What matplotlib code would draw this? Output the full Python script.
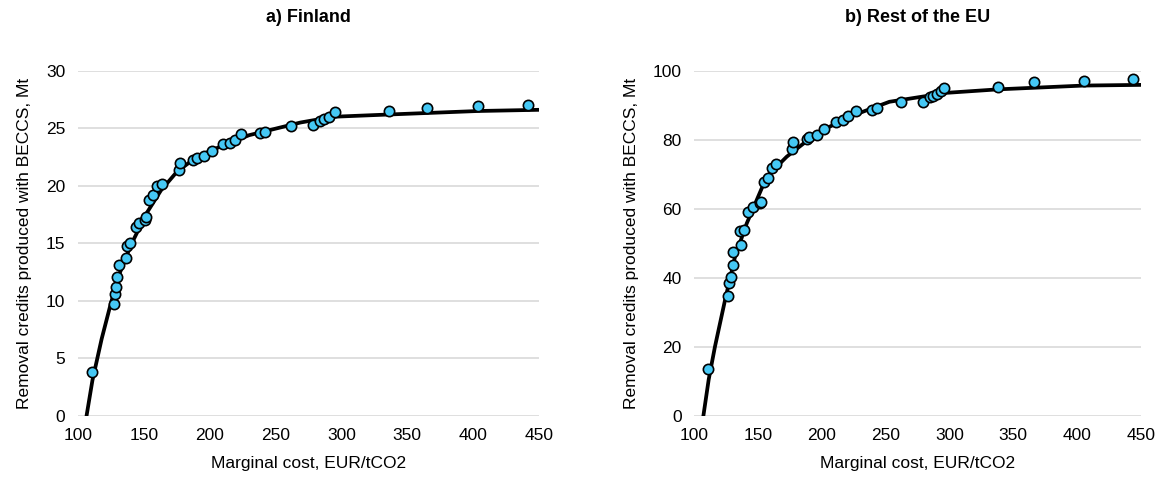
import numpy as np
import matplotlib.pyplot as plt

#%% Datos

# a) Finland: puntos
fi_cost = [111, 127, 128, 129, 130, 131, 136.5, 137, 139.5, 144, 146.5, 151, 152,
           154, 157, 160, 163.5, 176.5, 177.5, 187.5, 190.5, 195.5, 201.5, 210.5,
           215.5, 219.5, 224, 238, 242, 262, 278.5, 284, 286.5, 290.5, 295, 336.5,
           365, 404, 442]
fi_vol = [3.8, 9.7, 10.6, 11.2, 12.1, 13.1, 13.7, 14.8, 15.0, 16.4, 16.8, 17.0, 17.3,
          18.8, 19.2, 20.0, 20.2, 21.4, 22.0, 22.2, 22.4, 22.6, 23.0, 23.6,
          23.7, 24.0, 24.5, 24.6, 24.7, 25.2, 25.3, 25.6, 25.8, 26.0, 26.4, 26.5,
          26.8, 26.9, 27.0]
# a) Finland: curva ajustada
fi_fit_cost = [106.5, 111, 118, 125, 132, 140, 152, 163, 175, 190, 208, 230, 269,
               294, 337, 404, 449]
fi_fit_vol = [0, 3.1, 6.7, 9.8, 12.5, 14.8, 17.6, 19.6, 21.2, 22.5, 23.4, 24.4, 25.5,
              26.0, 26.2, 26.5, 26.6]

# b) Rest of the EU: puntos
eu_cost = [111.2, 126.9, 127.7, 129, 130.3, 130.8, 136.5, 136, 139.2, 142.5, 146.4,
           151.7, 152.5, 154.8, 158.2, 160.8, 164.2, 176.5, 177.8, 188.3, 190.1,
           196.1, 202.1, 211.2, 216.4, 220.8, 226.9, 239.1, 243.1, 262.1, 279.1,
           284.8, 287.4, 290, 293.2, 296, 337.8, 366.5, 405.6, 444]
eu_vol = [13.6, 34.8, 38.4, 40.3, 43.7, 47.4, 49.4, 53.6, 53.9, 59.2, 60.6,
          61.8, 62.1, 67.9, 69.0, 71.7, 73.0, 77.2, 79.4, 80.1, 80.7,
          81.4, 83.0, 85.2, 85.7, 86.9, 88.4, 88.6, 89.1, 91.0, 91.0,
          92.3, 92.8, 93.3, 94.2, 95.1, 95.4, 96.6, 97.0, 97.5]
# b) Rest of the EU: curva ajustada
eu_fit_cost = [107.3, 111.5, 116.4, 124.3, 132.1, 141.3, 156.9, 172.6, 196, 222,
               253, 298, 338, 405, 451]
eu_fit_vol = [0, 10.6, 20.1, 33.6, 46.1, 55.8, 69.3, 75.1, 81.9, 86.7,
              91.0, 93.6, 94.6, 95.7, 95.9]

titles = ['a) Finland', 'b) Rest of the EU']
xticks = [100, 150, 200, 250, 300, 350, 400, 450]

#%% Figura

plt.rcParams['font.family'] = ['Liberation Sans', 'DejaVu Sans']

fig = plt.figure(figsize=(11.6, 4.84), dpi=100)
ax1 = fig.add_axes([0.0672, 0.1405, 0.3974, 0.7134])
ax2 = fig.add_axes([0.5983, 0.1405, 0.3853, 0.7134])

panels = [(ax1, fi_cost, fi_vol, fi_fit_cost, fi_fit_vol, 30, 5),
          (ax2, eu_cost, eu_vol, eu_fit_cost, eu_fit_vol, 100, 20)]

for i, (ax, xc, yv, xf, yf, ymax, ystep) in enumerate(panels):
    ax.plot(xf, yf, 'k-', lw=2.7, zorder=2)
    ax.plot(xc, yv, 'o', ms=7.4, mfc='#45C8F5', mec='black', mew=1.2,
            ls='none', zorder=3)
    ax.set_xlim(100, 450)
    ax.set_ylim(0, ymax)
    ax.set_xticks(xticks)
    ax.set_yticks(np.arange(0, ymax + 1, ystep))
    ax.grid(axis='y', color='#D9D9D9', lw=1.2)
    ax.set_axisbelow(True)
    for s in ax.spines.values():
        s.set_visible(False)
    ax.tick_params(length=0, labelsize=12.5, pad=9)
    ax.set_xlabel('Marginal cost, EUR/tCO2', fontsize=12.5, labelpad=9)
    ax.set_ylabel('Removal credits produced with BECCS, Mt', fontsize=12.5,
                  labelpad=10)
    ax.set_title(titles[i], fontsize=13, fontweight='bold', pad=35)

fig.savefig('out.png', dpi=100)
